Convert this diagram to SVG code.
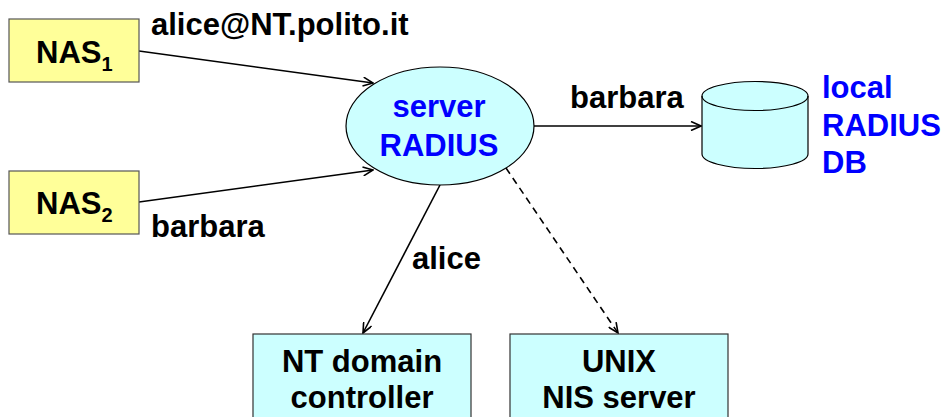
<svg xmlns="http://www.w3.org/2000/svg" width="947" height="417" viewBox="0 0 947 417">
  <defs>
    <style>
      text { font-family: "Liberation Sans", Arial, sans-serif; font-weight: bold; font-size: 31px; fill: #000; }
      .blue { fill: #0000FF; }
      .mid { text-anchor: middle; }
      .sub { font-size: 20px; }
      .nas { fill: #FFFF99; stroke: #555; stroke-width: 1.2; }
      .cyan { fill: #CCFFFF; stroke: #333; stroke-width: 1.2; }
      .link { fill: none; stroke: #000; stroke-width: 1.6; marker-end: url(#arrow); }
      .dashed { stroke-dasharray: 7 5; }
    </style>
    <marker id="arrow" viewBox="0 0 12 10" refX="11" refY="5" markerWidth="12" markerHeight="10" markerUnits="userSpaceOnUse" orient="auto">
      <path d="M1,0.5 L11,5 L1,9.5" fill="none" stroke="#000" stroke-width="1.6"/>
    </marker>
  </defs>

  <!-- connectors -->
  <g id="connectors">
    <line class="link" x1="139" y1="51" x2="373" y2="83"/>
    <line class="link" x1="139" y1="202" x2="373" y2="170"/>
    <line class="link" x1="534" y1="126" x2="701" y2="126"/>
    <line class="link" x1="440" y1="185" x2="363" y2="333"/>
    <line class="link dashed" x1="506" y1="168" x2="618" y2="333"/>
    <text x="151" y="35">alice@NT.polito.it</text>
    <text x="151" y="237">barbara</text>
    <text x="570" y="108">barbara</text>
    <text x="412" y="269">alice</text>
  </g>

  <!-- access servers -->
  <g id="nas1">
    <rect class="nas" x="9" y="19" width="130" height="63"/>
    <text x="36" y="63">NAS<tspan class="sub" dy="8">1</tspan></text>
  </g>
  <g id="nas2">
    <rect class="nas" x="9" y="171" width="130" height="63"/>
    <text x="36" y="214">NAS<tspan class="sub" dy="8">2</tspan></text>
  </g>

  <!-- RADIUS server -->
  <g id="radius-server">
    <ellipse class="cyan" cx="440" cy="126" rx="94" ry="59" style="stroke:#000"/>
    <text class="blue mid" x="439" y="117">server</text>
    <text class="blue mid" x="439" y="156">RADIUS</text>
  </g>

  <!-- local database -->
  <g id="local-db">
    <path class="cyan" d="M702,96 L702,154 A53,14.5 0 0 0 808,154 L808,96 A53,14.5 0 0 0 702,96 Z" style="stroke:#000"/>
    <path d="M702,96 A53,14.5 0 0 0 808,96" fill="none" stroke="#000" stroke-width="1.2"/>
    <text class="blue" x="822" y="98">local</text>
    <text class="blue" x="822" y="136">RADIUS</text>
    <text class="blue" x="822" y="173">DB</text>
  </g>

  <!-- back-end servers -->
  <g id="nt-domain">
    <rect class="cyan" x="253" y="334" width="218" height="100"/>
    <text class="mid" x="362" y="372">NT domain</text>
    <text class="mid" x="362" y="408">controller</text>
  </g>
  <g id="unix-nis">
    <rect class="cyan" x="510" y="334" width="218" height="100"/>
    <text class="mid" x="619" y="372">UNIX</text>
    <text class="mid" x="619" y="408">NIS server</text>
  </g>
</svg>
